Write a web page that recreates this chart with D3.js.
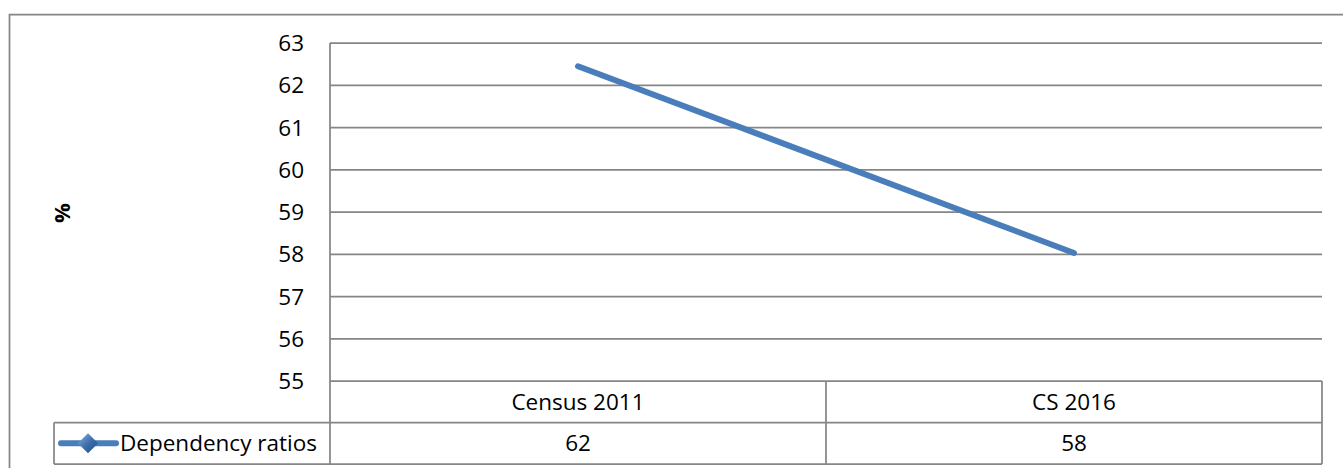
<!DOCTYPE html>
<html>
<head>
<meta charset="utf-8">
<script src="https://cdn.jsdelivr.net/npm/d3@7"></script>
<style>
  body { margin: 0; background: #fff; }
  svg { display: block; font-family: "Open Sans", sans-serif; }
</style>
</head>
<body>
<script>
// data
const categories = ["Census 2011", "CS 2016"];
const ratios = [62.45, 58.03];
const tableValues = ["62", "58"];
const yTicks = [55, 56, 57, 58, 59, 60, 61, 62, 63];
const seriesName = "Dependency ratios";

const W = 1343, H = 468;
const plot = { left: 330, right: 1322, top: 43, bottom: 381 };
const rowH = 41.5;
const legendLeft = 54;
const grid = "#868686";
const blue = "#4A7EBB";
const fs = 22.5;

const svg = d3.select("body").append("svg")
  .attr("width", W)
  .attr("height", H);

// outer chart border (right/bottom run off the picture)
svg.append("path")
  .attr("d", "M9.5," + (H + 5) + " V14.5 H" + (W + 5))
  .attr("fill", "none")
  .attr("stroke", grid)
  .attr("stroke-width", 1.75);

const x = d3.scaleBand()
  .domain(categories)
  .range([plot.left, plot.right])
  .padding(0);

const y = d3.scaleLinear()
  .domain([55, 63])
  .range([plot.bottom, plot.top]);

// gridlines
svg.append("g")
  .selectAll("line")
  .data(yTicks)
  .enter().append("line")
  .attr("x1", plot.left)
  .attr("x2", plot.right)
  .attr("y1", d => y(d))
  .attr("y2", d => y(d))
  .attr("stroke", grid)
  .attr("stroke-width", 1.75);

// y axis line, runs down through the table
svg.append("line")
  .attr("x1", plot.left).attr("x2", plot.left)
  .attr("y1", plot.top).attr("y2", plot.bottom + 2 * rowH)
  .attr("stroke", grid)
  .attr("stroke-width", 1.75);

// tick labels
svg.append("g")
  .selectAll("text")
  .data(yTicks)
  .enter().append("text")
  .attr("x", plot.left - 26)
  .attr("y", d => y(d))
  .attr("dy", "0.36em")
  .attr("text-anchor", "end")
  .attr("font-size", fs)
  .attr("fill", "#000")
  .text(d => d);

// axis title
svg.append("text")
  .attr("transform", "translate(62,213) rotate(-90)")
  .attr("text-anchor", "middle")
  .attr("dy", "0.36em")
  .attr("font-size", 22)
  .attr("font-weight", "bold")
  .text("%");

// the line
const line = d3.line()
  .x((d, i) => x(categories[i]) + x.bandwidth() / 2)
  .y(d => y(d));

svg.append("path")
  .datum(ratios)
  .attr("d", line)
  .attr("fill", "none")
  .attr("stroke", blue)
  .attr("stroke-width", 6)
  .attr("stroke-linecap", "round");

// ---- data table ----
const t = svg.append("g");
const row1 = plot.bottom, row2 = plot.bottom + rowH, row3 = plot.bottom + 2 * rowH;

// horizontal rules
t.append("line")
  .attr("x1", legendLeft).attr("x2", plot.right)
  .attr("y1", row2).attr("y2", row2)
  .attr("stroke", grid).attr("stroke-width", 1.75);
t.append("line")
  .attr("x1", legendLeft).attr("x2", plot.right)
  .attr("y1", row3).attr("y2", row3)
  .attr("stroke", grid).attr("stroke-width", 1.75);
// legend cell left edge
t.append("line")
  .attr("x1", legendLeft).attr("x2", legendLeft)
  .attr("y1", row2).attr("y2", row3)
  .attr("stroke", grid).attr("stroke-width", 1.75);

// column dividers
t.selectAll(".div")
  .data(categories)
  .enter().append("line")
  .attr("x1", d => x(d) + x.bandwidth())
  .attr("x2", d => x(d) + x.bandwidth())
  .attr("y1", row1).attr("y2", row3)
  .attr("stroke", grid).attr("stroke-width", 1.75);

t.selectAll(".cat")
  .data(categories)
  .enter().append("text")
  .attr("x", d => x(d) + x.bandwidth() / 2)
  .attr("y", (row1 + row2) / 2)
  .attr("dy", "0.36em")
  .attr("text-anchor", "middle")
  .attr("font-size", fs)
  .text(d => d);

t.selectAll(".val")
  .data(tableValues)
  .enter().append("text")
  .attr("x", (d, i) => x(categories[i]) + x.bandwidth() / 2)
  .attr("y", (row2 + row3) / 2)
  .attr("dy", "0.36em")
  .attr("text-anchor", "middle")
  .attr("font-size", fs)
  .text(d => d);

// legend key
const defs = svg.append("defs");
const grad = defs.append("linearGradient")
  .attr("id", "dia")
  .attr("x1", "0").attr("y1", "0").attr("x2", "1").attr("y2", "1");
grad.append("stop").attr("offset", "0").attr("stop-color", "#8fb2de");
grad.append("stop").attr("offset", "0.5").attr("stop-color", "#3f6fae");
grad.append("stop").attr("offset", "1").attr("stop-color", "#1f4a80");

const ky = (row2 + row3) / 2;
t.append("line")
  .attr("x1", 61).attr("x2", 116)
  .attr("y1", ky).attr("y2", ky)
  .attr("stroke", blue)
  .attr("stroke-width", 6)
  .attr("stroke-linecap", "round");
t.append("path")
  .attr("d", d3.symbol().type(d3.symbolDiamond2).size(260))
  .attr("transform", "translate(88," + ky + ")")
  .attr("fill", "url(#dia)");

t.append("text")
  .attr("x", 120)
  .attr("y", ky)
  .attr("dy", "0.36em")
  .attr("font-size", fs)
  .text(seriesName);
</script>
</body>
</html>
